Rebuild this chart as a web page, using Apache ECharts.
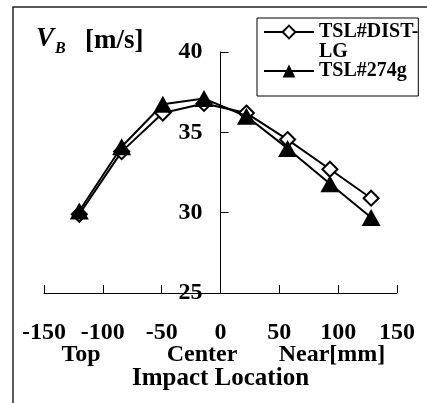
<!DOCTYPE html>
<html>
<head>
<meta charset="utf-8">
<script src="https://cdn.jsdelivr.net/npm/echarts@6/dist/echarts.min.js"></script>
<style>
html,body{margin:0;padding:0;background:#fff;}
#chart{width:427px;height:403px;}
</style>
</head>
<body>
<div id="chart"></div>
<script>
var impactX = [-120, -84, -49, -14, 22, 57, 93, 128];
var distLG = [29.9, 33.8, 36.2, 36.8, 36.2, 34.55, 32.7, 30.9];
var g274 = [30.1, 34.1, 36.75, 37.1, 36.0, 34.0, 31.8, 29.7];
var seriesNames = ['TSL#DIST-LG', 'TSL#274g'];
var xTicks = [-150, 150, 50];
var yTicks = [25, 40, 5];
var subLabels = ['Top', 'Center', 'Near[mm]'];

var FONT = 'Liberation Serif';
function pairs(xs, ys) { return xs.map(function (x, i) { return [x, ys[i]]; }); }

var GRID_LEFT = 44, GRID_RIGHT = 30, W = 427;
var gridW = W - GRID_LEFT - GRID_RIGHT;
// place the y axis on x = 0 (offset inward from the grid's left edge)
var zeroOffset = -gridW * (0 - xTicks[0]) / (xTicks[1] - xTicks[0]);

var chart = echarts.init(document.getElementById('chart'), null, {renderer: 'canvas'});
chart.setOption({
  animation: false,
  backgroundColor: '#fff',
  grid: {left: GRID_LEFT, right: GRID_RIGHT, top: 52, bottom: 110, containLabel: false},
  xAxis: {
    type: 'value', min: xTicks[0], max: xTicks[1], interval: xTicks[2],
    axisLine: {onZero: false, lineStyle: {color: '#000', width: 1}},
    axisTick: {inside: true, length: 8, lineStyle: {color: '#000'}},
    axisLabel: {margin: 28, color: '#000', fontFamily: FONT, fontWeight: 'bold', fontSize: 24},
    splitLine: {show: false},
    name: 'Impact Location', nameLocation: 'middle', nameGap: 73,
    nameTextStyle: {color: '#000', fontFamily: FONT, fontWeight: 'bold', fontSize: 25}
  },
  yAxis: {
    type: 'value', min: yTicks[0], max: yTicks[1], interval: yTicks[2],
    offset: zeroOffset,
    axisLine: {show: true, onZero: false, lineStyle: {color: '#000', width: 1}},
    axisTick: {show: true, inside: true, length: 8, lineStyle: {color: '#000'}},
    axisLabel: {margin: 18, color: '#000', fontFamily: FONT, fontWeight: 'bold', fontSize: 24},
    splitLine: {show: false}
  },
  legend: {
    orient: 'vertical', left: 257, top: 18,
    padding: [-16, 0, 15, 6],
    itemGap: -1, itemWidth: 50, itemHeight: 16,
    borderColor: '#000', borderWidth: 1, borderRadius: 0,
    backgroundColor: '#fff',
    formatter: function (n) {
      return n === 'TSL#DIST-LG' ? '{p| }\n{t|TSL#DIST-}\n{t|LG}' : '{t|' + n + '}';
    },
    textStyle: {
      color: '#000', fontFamily: FONT, fontWeight: 'bold', fontSize: 20, lineHeight: 20,
      rich: {
        p: {fontSize: 20, lineHeight: 20},
        t: {color: '#000', fontFamily: FONT, fontWeight: 'bold', fontSize: 20, lineHeight: 20}
      }
    },
    data: seriesNames
  },
  graphic: [
    {type: 'rect', shape: {x: 13, y: 7, width: 500, height: 500}, style: {fill: 'none', stroke: '#222', lineWidth: 1.5}, silent: true, z: -1},
    {type: 'text', x: 36, y: 39, style: {text: 'V', font: 'italic bold 27px "Liberation Serif"', fill: '#000', textVerticalAlign: 'middle'}},
    {type: 'text', x: 55, y: 48.5, style: {text: 'B', font: 'italic bold 16px "Liberation Serif"', fill: '#000', textVerticalAlign: 'middle'}},
    {type: 'text', x: 85, y: 41, style: {text: '[m/s]', font: 'bold 27px "Liberation Serif"', fill: '#000', textVerticalAlign: 'middle'}},
    {type: 'text', x: 81, y: 355, style: {text: subLabels[0], font: 'bold 24px "Liberation Serif"', fill: '#000', textAlign: 'center', textVerticalAlign: 'middle'}},
    {type: 'text', x: 202, y: 355, style: {text: subLabels[1], font: 'bold 24px "Liberation Serif"', fill: '#000', textAlign: 'center', textVerticalAlign: 'middle'}},
    {type: 'text', x: 332, y: 355, style: {text: subLabels[2], font: 'bold 24px "Liberation Serif"', fill: '#000', textAlign: 'center', textVerticalAlign: 'middle'}}
  ],
  series: [
    {
      name: seriesNames[0], type: 'line', data: pairs(impactX, distLG),
      symbol: 'diamond', symbolSize: 15, color: '#000',
      lineStyle: {color: '#000', width: 2},
      itemStyle: {color: '#fff', borderColor: '#000', borderWidth: 2},
      z: 2
    },
    {
      name: seriesNames[1], type: 'line', data: pairs(impactX, g274),
      symbol: 'triangle', symbolSize: [19, 17], color: '#000',
      lineStyle: {color: '#000', width: 2},
      itemStyle: {color: '#000', borderColor: '#000', borderWidth: 0},
      z: 3
    }
  ]
});
</script>
</body>
</html>
